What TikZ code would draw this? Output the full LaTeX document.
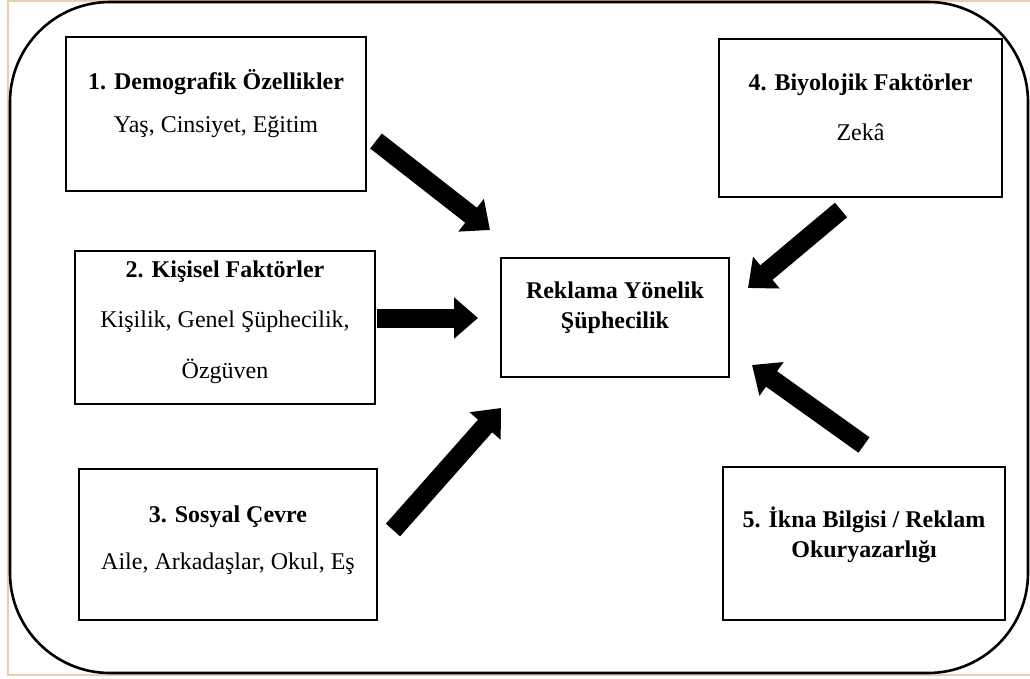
\documentclass[tikz,border=0pt]{standalone}
\usepackage{fontspec}
\newfontfamily\timesface{Liberation Serif}
\usetikzlibrary{arrows.meta}
\definecolor{frametan}{HTML}{EBCDB0}
\tikzset{
  factor/.style={draw=black, line width=2.4pt, fill=white, inner sep=0pt},
  ttl/.style={font=\timesface\fontsize{24}{30}\selectfont\bfseries, align=center},
  body/.style={font=\timesface\fontsize{24}{30}\selectfont, align=center},
  bigarrow/.style={line width=19pt, -{Triangle[width=40pt,length=24pt]}}
}
\begin{document}
\begin{tikzpicture}[x=1pt,y=-1pt]
\useasboundingbox (0,0) rectangle (1030,678);
% thin page frame
\draw[frametan, line width=1.5pt] (8,1) rectangle (1034,675);
% rounded outer border
\draw[line width=2.6pt, rounded corners=100pt] (10,2) rectangle (1028,673);

% factor boxes
\node[factor, minimum width=300pt, minimum height=154pt] (b1) at (216,114) {};
\node[ttl] (t1) at (216,82) {1. Demografik Özellikler};
\node[body] (s1) at (216,127) {Yaş, Cinsiyet, Eğitim};

\node[factor, minimum width=300pt, minimum height=153pt] (b2) at (225,327.5) {};
\node[ttl] (t2) at (225,272) {2. Kişisel Faktörler};
\node[body] (s2) at (225,322) {Kişilik, Genel Şüphecilik,};
\node[body] (s2b) at (225,371) {Özgüven};

\node[factor, minimum width=298pt, minimum height=151pt] (b3) at (228,544.5) {};
\node[ttl] (t3) at (228,517) {3. Sosyal Çevre};
\node[body] (s3) at (228,564) {Aile, Arkadaşlar, Okul, Eş};

\node[factor, minimum width=283pt, minimum height=158pt] (b4) at (860.5,118) {};
\node[ttl] (t4) at (860.5,85) {4. Biyolojik Faktörler};
\node[body] (s4) at (860.5,132) {Zekâ};

\node[factor, minimum width=282pt, minimum height=153pt] (b5) at (864,543.5) {};
\node[ttl] (t5) at (864,535) {5. İkna Bilgisi / Reklam\\Okuryazarlığı};

% central outcome box
\node[factor, minimum width=228pt, minimum height=119pt] (c) at (615,317.5) {};
\node[ttl] (ct) at (615,308) {Reklama Yönelik\\Şüphecilik};

% arrow end points
\coordinate (a1s) at (376,141);
\coordinate (a1e) at (490,230);
\coordinate (a2s) at (377,318);
\coordinate (a2e) at (478,318);
\coordinate (a3s) at (393,530);
\coordinate (a3e) at (501,408);
\coordinate (a4s) at (841,210);
\coordinate (a4e) at (748,288);
\coordinate (a5s) at (864,445);
\coordinate (a5e) at (752,365);

% influence arrows
\draw[bigarrow] (a1s) -- (a1e);
\draw[bigarrow] (a2s) -- (a2e);
\draw[bigarrow] (a3s) -- (a3e);
\draw[bigarrow] (a4s) -- (a4e);
\draw[bigarrow] (a5s) -- (a5e);
\end{tikzpicture}
\end{document}
